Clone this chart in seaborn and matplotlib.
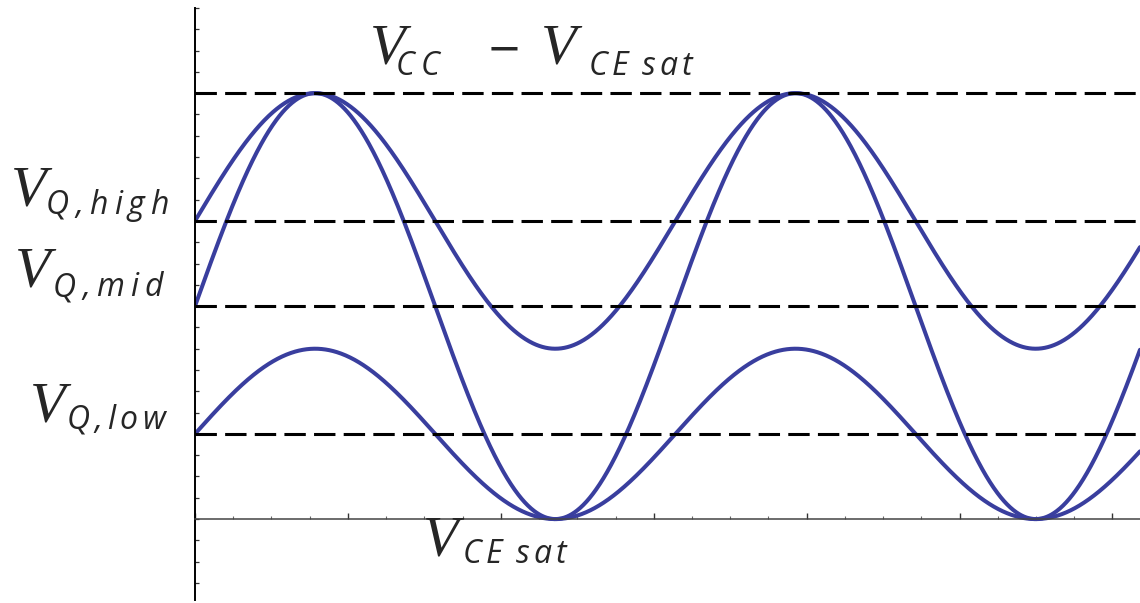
import numpy as np
import pandas as pd
import matplotlib.pyplot as plt
import seaborn as sns
from matplotlib.ticker import MultipleLocator

# operating points (fraction of the usable swing, V_CEsat = 0, V_CC - V_CEsat = 1)
bias_names = ["low", "mid", "high"]
bias_levels = [0.2, 0.5, 0.7]
swing_amps = [0.2, 0.5, 0.3]
rail_levels = [0.2, 0.5, 0.7, 1.0]
omega = 2.0
t_end = 6.18

curve_color = "#393E9E"
W, H = 1140, 603

sns.set_style("ticks")

fig = plt.figure(figsize=(W / 100, H / 100), dpi=100)
ax = fig.add_axes([195 / W, 3 / H, 945 / W, 592 / H])

t = np.linspace(0, t_end, 1500)
frames = []
for name, q, a in zip(bias_names, bias_levels, swing_amps):
	frames.append(pd.DataFrame({"t": t, "v": q + a * np.sin(omega * t), "bias": name}))
df = pd.concat(frames, ignore_index=True)

sns.lineplot(
	data=df, x="t", y="v", hue="bias", palette=[curve_color] * 3,
	estimator=None, lw=2.9, legend=False, ax=ax, zorder=2,
)

# dashed rails sit on top of the curves
for y in rail_levels:
	ax.axhline(y, color="black", lw=2.2, dashes=(7, 2.7), zorder=4)

ax.set_xlim(0, t_end)
ax.set_ylim(-0.19, 1.2)
ax.set_xlabel("")
ax.set_ylabel("")

for side in ["top", "right"]:
	ax.spines[side].set_visible(False)
ax.spines["bottom"].set_position(("data", 0))
ax.spines["bottom"].set_color("#444444")
ax.spines["bottom"].set_linewidth(1.1)
ax.spines["left"].set_color("black")
ax.spines["left"].set_linewidth(1.4)

ax.xaxis.set_major_locator(MultipleLocator(1))
ax.xaxis.set_minor_locator(MultipleLocator(0.25))
ax.yaxis.set_major_locator(MultipleLocator(0.05))
ax.tick_params(axis="x", which="major", direction="in", length=4, width=1, color="#333333", labelbottom=False)
ax.tick_params(axis="x", which="minor", direction="in", length=2.5, width=0.8, color="#666666")
ax.tick_params(axis="y", which="major", direction="in", length=3, width=0.9, color="#333333", labelleft=False)

renderer = fig.canvas.get_renderer()


def put(x, y, s, size, family, track=0.0):
	# draw s char by char from pixel (x, baseline y), measured from top-left
	for ch in s:
		if ch == " ":
			x += size * 0.3 * 100 / 72
			continue
		txt = fig.text(x / W, 1 - y / H, ch, fontsize=size, family=family,
			style="italic", ha="left", va="baseline")
		x += txt.get_window_extent(renderer).width + track
	return x


serif = "Liberation Serif"
sans = "Open Sans"

# left-side bias labels
put(11, 206, "V", 42, serif)
put(46, 214, "Q,high", 23, sans, 6)
put(15, 287, "V", 42, serif)
put(53, 296, "Q,mid", 23, sans, 6)
put(30, 422, "V", 42, serif)
put(67, 429, "Q,low", 23, sans, 4.5)

# top rail
put(370, 63, "V", 42, serif)
put(396, 75, "CC", 23, sans, 6)
fig.text(504 / W, 1 - 50 / H, "\u2212", fontsize=30, family="DejaVu Sans", ha="center", va="center")
put(541, 63, "V", 42, serif)
put(589, 75, "CE sat", 23, sans, 4)

# bottom rail
put(423, 555, "V", 42, serif)
put(463, 563, "CE sat", 23, sans, 4)

fig.savefig("out.png", dpi=100)
